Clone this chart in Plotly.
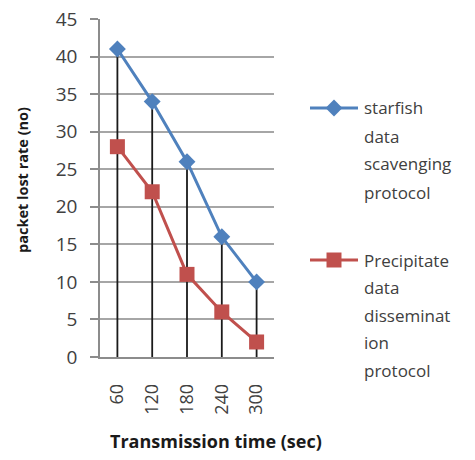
import plotly.graph_objects as go

# Data
times = ["60", "120", "180", "240", "300"]
starfish = [41, 34, 26, 16, 10]
precipitate = [28, 22, 11, 6, 2]
y_ticks = [0, 5, 10, 15, 20, 25, 30, 35, 40, 45]

starfish_name = ["starfish", "data", "scavenging", "protocol"]
precip_name = ["Precipitate", "data", "disseminat", "ion", "protocol"]

BLUE = "#4F81BD"
RED = "#C0504D"
TXT = "#404040"
FONT = "Open Sans"

W, H = 475, 460
def px(x):
    return x / W
def py(y):
    return 1 - y / H

fig = go.Figure()

# drop lines: from the top of each category down to zero
tops = [max(a, b) for a, b in zip(starfish, precipitate)]
fig.add_trace(go.Scatter(
    x=times, y=tops, mode="markers", marker=dict(size=0, opacity=0),
    error_y=dict(type="data", symmetric=False, array=[0] * len(tops),
                 arrayminus=tops, color="#1a1a1a", thickness=1.8, width=0),
    hoverinfo="skip", showlegend=False,
))

fig.add_trace(go.Scatter(
    x=times, y=starfish, mode="lines+markers", name=" ".join(starfish_name),
    line=dict(color=BLUE, width=3),
    marker=dict(symbol="diamond", size=13, color=BLUE),
    showlegend=False,
))
fig.add_trace(go.Scatter(
    x=times, y=precipitate, mode="lines+markers", name=" ".join(precip_name),
    line=dict(color=RED, width=3),
    marker=dict(symbol="square", size=15, color=RED),
    showlegend=False,
))

# legend keys on an overlay axis in pixel units
for color, sym, size, yk in [(BLUE, "diamond", 13, 108), (RED, "square", 15, 260)]:
    fig.add_trace(go.Scatter(
        x=[310, 358], y=[yk, yk], mode="lines", line=dict(color=color, width=3),
        xaxis="x2", yaxis="y2", showlegend=False, hoverinfo="skip",
    ))
    fig.add_trace(go.Scatter(
        x=[334], y=[yk], mode="markers",
        marker=dict(symbol=sym, size=size, color=color),
        xaxis="x2", yaxis="y2", showlegend=False, hoverinfo="skip",
    ))

annotations = []
for i, t in enumerate(starfish_name):
    annotations.append(dict(text=t, x=px(362), y=py(108 + 28 * i), xref="paper", yref="paper",
                            xanchor="left", yanchor="middle", showarrow=False,
                            font=dict(family=FONT, size=17, color=TXT)))
for i, t in enumerate(precip_name):
    annotations.append(dict(text=t, x=px(362), y=py(260 + 27.5 * i), xref="paper", yref="paper",
                            xanchor="left", yanchor="middle", showarrow=False,
                            font=dict(family=FONT, size=17, color=TXT)))

annotations.append(dict(text="<b>Transmission time (sec)</b>", x=px(216), y=py(441),
                        xref="paper", yref="paper", xanchor="center", yanchor="middle",
                        showarrow=False, font=dict(family=FONT, size=18, color="#1a1a1a")))
annotations.append(dict(text="<b>packet lost rate (no)</b>", x=px(23), y=py(180),
                        xref="paper", yref="paper", xanchor="center", yanchor="middle",
                        textangle=-90, showarrow=False,
                        font=dict(family=FONT, size=14.5, color="#1a1a1a")))

fig.update_layout(
    width=W, height=H,
    margin=dict(l=0, r=0, t=0, b=0, pad=0),
    paper_bgcolor="white", plot_bgcolor="rgba(0,0,0,0)",
    annotations=annotations,
    xaxis=dict(
        domain=[px(100), px(274)], type="category", range=[-0.5, 4.5],
        showgrid=False, showline=True, linecolor="#8c8c8c", linewidth=1.5,
        tickangle=-90, ticks="", ticklabelstandoff=18,
        tickfont=dict(family=FONT, size=18, color=TXT),
        zeroline=False, fixedrange=True, anchor="y", automargin=False,
    ),
    yaxis=dict(
        domain=[py(357), py(19)], range=[0, 45], tickvals=y_ticks,
        showgrid=True, gridcolor="#a6a6a6", gridwidth=1.5,
        showline=True, linecolor="#8c8c8c", linewidth=1.5,
        ticks="outside", ticklen=8, tickcolor="#8c8c8c", tickwidth=1.5,
        ticklabelstandoff=9,
        tickfont=dict(family=FONT, size=19, color=TXT),
        zeroline=False, fixedrange=True, anchor="x", automargin=False,
    ),
    xaxis2=dict(domain=[0, 1], range=[0, W], visible=False, anchor="y2",
                fixedrange=True, automargin=False),
    yaxis2=dict(domain=[0, 1], range=[H, 0], visible=False, anchor="x2",
                fixedrange=True, automargin=False),
)

fig.write_html("out.html")
